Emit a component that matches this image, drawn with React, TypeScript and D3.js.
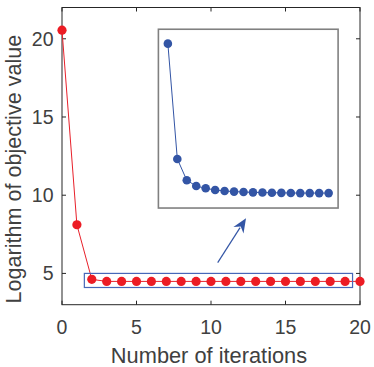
import React, { useEffect, useRef } from 'react';
import * as d3 from 'd3';

// main series: log objective per iteration
const iterations = [0, 1, 2, 3, 4, 5, 6, 7, 8, 9, 10, 11, 12, 13, 14, 15, 16, 17, 18, 19, 20];
const objective = [20.55, 8.11, 4.62, 4.49, 4.49, 4.49, 4.49, 4.49, 4.49, 4.49, 4.49, 4.49, 4.49, 4.49, 4.49, 4.49, 4.49, 4.49, 4.49, 4.49, 4.49];

// zoomed inset series (iterations 2..19)
const insetIterations = [2, 3, 4, 5, 6, 7, 8, 9, 10, 11, 12, 13, 14, 15, 16, 17, 18, 19];
const insetValues = [4.64, 4.532, 4.512, 4.5066, 4.5045, 4.5029, 4.502, 4.5014, 4.501, 4.5007, 4.5005, 4.5003, 4.5002, 4.5001, 4.5, 4.5, 4.5, 4.5];

const xTicks = [0, 5, 10, 15, 20];
const yTicks = [5, 10, 15, 20];

// annotation geometry, in main data units
const zoomRect = { x0: 1.5, x1: 19.5, y0: 4.1, y1: 5.0 };
const insetRect = { x0: 6.47, x1: 18.53, y0: 9.18, y1: 20.61 };
const arrowFrom = [10.45, 5.69];
const arrowTo = [12.35, 8.52];

const FONT = '"Liberation Sans", Arial, Helvetica, sans-serif';
const TXT = '#404040';

const App = () => {
  const ref = useRef<SVGSVGElement>(null);

  useEffect(() => {
    const svg = d3.select(ref.current);
    svg.selectAll('*').remove();

    const width = 374, height = 367;
    const margin = { top: 7.5, right: 14, bottom: 62.3, left: 62 };
    svg.attr('width', width).attr('height', height);

    const x = d3.scaleLinear().domain([0, 20]).range([margin.left, width - margin.right]);
    const y = d3.scaleLinear().domain([3, 22]).range([height - margin.bottom, margin.top]);

    const x0 = x(0), x1 = x(20), yTop = y(22), yBot = y(3);

    // ticks (inward, all four sides)
    const tk = 4;
    const g = svg.append('g').attr('stroke', '#262626').attr('stroke-width', 1);
    xTicks.forEach(t => {
      g.append('line').attr('x1', x(t)).attr('x2', x(t)).attr('y1', yBot).attr('y2', yBot - tk);
      g.append('line').attr('x1', x(t)).attr('x2', x(t)).attr('y1', yTop).attr('y2', yTop + tk);
    });
    yTicks.forEach(t => {
      g.append('line').attr('x1', x0).attr('x2', x0 + tk).attr('y1', y(t)).attr('y2', y(t));
      g.append('line').attr('x1', x1).attr('x2', x1 - tk).attr('y1', y(t)).attr('y2', y(t));
    });
    g.append('rect').attr('x', x0).attr('y', yTop).attr('width', x1 - x0).attr('height', yBot - yTop).attr('fill', 'none');

    // tick labels
    svg.append('g').selectAll('text').data(xTicks).join('text')
      .attr('x', d => x(d)).attr('y', 333.5)
      .attr('text-anchor', 'middle')
      .style('font-family', FONT).style('font-size', '19.5px').style('fill', TXT)
      .text(d => d);
    svg.append('g').selectAll('text').data(yTicks).join('text')
      .attr('x', 53.5).attr('y', d => y(d) + 7)
      .attr('text-anchor', 'end')
      .style('font-family', FONT).style('font-size', '19.5px').style('fill', TXT)
      .text(d => d);

    // axis titles
    svg.append('text')
      .attr('x', (x0 + x1) / 2 - 2).attr('y', 362.5)
      .attr('text-anchor', 'middle')
      .style('font-family', FONT).style('font-size', '21.8px').style('fill', TXT)
      .text('Number of iterations');
    svg.append('text')
      .attr('transform', `translate(20.5,${(yTop + yBot) / 2 + 13}) rotate(-90)`)
      .attr('text-anchor', 'middle')
      .style('font-family', FONT).style('font-size', '21.6px').style('fill', TXT)
      .text('Logarithm of objective value');

    // main series
    const pts = iterations.map((it, i) => [it, objective[i]] as [number, number]);
    svg.append('path')
      .datum(pts)
      .attr('fill', 'none').attr('stroke', '#e8202a').attr('stroke-width', 1)
      .attr('d', d3.line().x(d => x(d[0])).y(d => y(d[1])));
    svg.append('g').selectAll('circle').data(pts).join('circle')
      .attr('cx', d => x(d[0])).attr('cy', d => y(d[1])).attr('r', 4.6)
      .attr('fill', '#ec1c24');

    // zoom rectangle
    svg.append('rect')
      .attr('x', x(zoomRect.x0)).attr('y', y(zoomRect.y1))
      .attr('width', x(zoomRect.x1) - x(zoomRect.x0)).attr('height', y(zoomRect.y0) - y(zoomRect.y1))
      .attr('fill', 'none').attr('stroke', '#4767b8').attr('stroke-width', 1.2);

    // arrow
    const ax0 = x(arrowFrom[0]), ay0 = y(arrowFrom[1]);
    const ax1 = x(arrowTo[0]), ay1 = y(arrowTo[1]);
    const ang = Math.atan2(ay1 - ay0, ax1 - ax0);
    const hl = 14, hw = 6;
    const bx = ax1 - hl * Math.cos(ang), by = ay1 - hl * Math.sin(ang);
    svg.append('line')
      .attr('x1', ax0).attr('y1', ay0).attr('x2', bx + 3 * Math.cos(ang)).attr('y2', by + 3 * Math.sin(ang))
      .attr('stroke', '#3355a5').attr('stroke-width', 1.2);
    const px = -Math.sin(ang), py = Math.cos(ang);
    const ix = ax1 - (hl * 0.7) * Math.cos(ang), iy = ay1 - (hl * 0.7) * Math.sin(ang);
    svg.append('path')
      .attr('d', `M${ax1},${ay1}L${bx + px * hw},${by + py * hw}L${ix},${iy}L${bx - px * hw},${by - py * hw}Z`)
      .attr('fill', '#3355a5');

    // inset
    const ix0 = x(insetRect.x0), ix1 = x(insetRect.x1);
    const iyT = y(insetRect.y1), iyB = y(insetRect.y0);
    svg.append('rect')
      .attr('x', ix0).attr('y', iyT).attr('width', ix1 - ix0).attr('height', iyB - iyT)
      .attr('fill', 'white').attr('stroke', '#808080').attr('stroke-width', 1.6);

    const xi = d3.scaleLinear().domain([1, 20]).range([ix0, ix1]);
    const yi = d3.scaleLinear().domain([4.486, 4.6535]).range([iyB, iyT]);
    const ipts = insetIterations.map((it, i) => [it, insetValues[i]] as [number, number]);
    svg.append('path')
      .datum(ipts)
      .attr('fill', 'none').attr('stroke', '#3355a5').attr('stroke-width', 1)
      .attr('d', d3.line().x(d => xi(d[0])).y(d => yi(d[1])));
    svg.append('g').selectAll('circle').data(ipts).join('circle')
      .attr('cx', d => xi(d[0])).attr('cy', d => yi(d[1])).attr('r', 4.3)
      .attr('fill', '#3355a5');
  }, []);

  return <svg ref={ref} style={{ position: 'absolute', left: 0, top: 0, background: 'white' }} />;
};

export default App;
